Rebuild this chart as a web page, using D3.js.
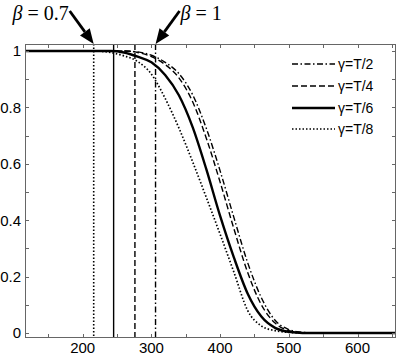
<!DOCTYPE html>
<html><head><meta charset="utf-8">
<script src="https://cdn.jsdelivr.net/npm/d3@7"></script>
<style>
html,body{margin:0;padding:0;background:#fff;}
svg{display:block;}
</style></head>
<body>
<svg id="chart" width="398" height="363"></svg>
<script>
// ---- data ----
const xGrid = [116, 200, 216, 240, 260, 280, 300, 320, 340, 360, 380, 400, 420, 440, 460, 480, 500, 520, 540, 656];
const yT2 = [1, 1, 1, 1, 1, 0.997, 0.985, 0.96, 0.92, 0.845, 0.725, 0.575, 0.41, 0.25, 0.125, 0.045, 0.012, 0.002, 0, 0];
const yT4 = [1, 1, 1, 1, 1, 0.995, 0.98, 0.952, 0.905, 0.82, 0.69, 0.535, 0.37, 0.215, 0.1, 0.035, 0.008, 0.001, 0, 0];
const yT6 = [1, 1, 1, 1, 0.995, 0.98, 0.96, 0.915, 0.843, 0.73, 0.58, 0.415, 0.268, 0.14, 0.058, 0.018, 0.004, 0, 0, 0];
const yT8 = [1, 1, 1, 0.995, 0.983, 0.963, 0.918, 0.832, 0.727, 0.607, 0.48, 0.35, 0.216, 0.08, 0.025, 0.008, 0.002, 0, 0, 0];
const seriesNames = ["γ=T/2", "γ=T/4", "γ=T/6", "γ=T/8"];
const betaX = [306, 276, 245, 216];          // vertical marker lines, same order as series
const betaLabels = [{text: "= 1", idx: 0, side: 1}, {text: "= 0.7", idx: 3, side: -1}];
const xTicks = [150, 200, 250, 300, 350, 400, 450, 500, 550, 600, 650];
const xTickLabels = [200, 300, 400, 500, 600];
const yTicks = [0, 0.1, 0.2, 0.3, 0.4, 0.5, 0.6, 0.7, 0.8, 0.9, 1];
const yTickLabels = [0, 0.2, 0.4, 0.6, 0.8, 1];
const xDomain = [116, 656];
const yDomain = [-0.018, 1.025];

// ---- styles ----
const styles = [
  {dash: "6,2.5,1.5,2.5", width: 1.4},
  {dash: "6,3", width: 1.4},
  {dash: null, width: 2.4},
  {dash: "1.5,2", width: 1.7}
];

const svg = d3.select("#chart");
const m = {l: 25, r: 2, t: 44, b: 25};
const W = 398, H = 363;
const x = d3.scaleLinear().domain(xDomain).range([m.l, W - m.r]);
const y = d3.scaleLinear().domain(yDomain).range([H - m.b, m.t]);

const g = svg.append("g");
svg.append("defs").append("clipPath").attr("id", "clip")
  .append("rect").attr("x", m.l).attr("y", m.t).attr("width", W - m.l - m.r).attr("height", H - m.t - m.b);

const plot = g.append("g").attr("clip-path", "url(#clip)");

// vertical lines
betaX.forEach((bx, i) => {
  plot.append("line")
    .attr("x1", x(bx)).attr("x2", x(bx))
    .attr("y1", y(yDomain[1])).attr("y2", y(yDomain[0]))
    .attr("stroke", "#000").attr("stroke-width", i === 3 ? 1.6 : 1.4)
    .attr("stroke-dasharray", styles[i].dash);
});

// curves
const ys = [yT2, yT4, yT6, yT8];
const line = d3.line().x(d => x(d[0])).y(d => y(d[1])).curve(d3.curveMonotoneX);
ys.forEach((arr, i) => {
  plot.append("path")
    .datum(xGrid.map((xv, j) => [xv, arr[j]]))
    .attr("d", line)
    .attr("fill", "none")
    .attr("stroke", "#000")
    .attr("stroke-width", styles[i].width)
    .attr("stroke-dasharray", styles[i].dash);
});

// axes box with inward ticks on all sides
const axisColor = "#666";
const tl = 4;
const ax = g.append("g").attr("font-family", "Liberation Sans, Arial, sans-serif").attr("font-size", 15);
ax.append("rect").attr("x", m.l + 0.5).attr("y", m.t + 0.5)
  .attr("width", W - m.l - m.r - 1).attr("height", H - m.t - m.b - 1)
  .attr("fill", "none").attr("stroke", axisColor).attr("stroke-width", 1);

xTicks.forEach(t => {
  const px = Math.round(x(t)) + 0.5;
  ax.append("line").attr("x1", px).attr("x2", px).attr("y1", H - m.b).attr("y2", H - m.b - tl).attr("stroke", axisColor);
  ax.append("line").attr("x1", px).attr("x2", px).attr("y1", m.t).attr("y2", m.t + tl).attr("stroke", axisColor);
});
yTicks.forEach(t => {
  const py = Math.round(y(t)) + 0.5;
  ax.append("line").attr("x1", m.l).attr("x2", m.l + tl).attr("y1", py).attr("y2", py).attr("stroke", axisColor);
  ax.append("line").attr("x1", W - m.r).attr("x2", W - m.r - tl).attr("y1", py).attr("y2", py).attr("stroke", axisColor);
});
xTickLabels.forEach(t => {
  ax.append("text").attr("x", x(t)).attr("y", 353).attr("text-anchor", "middle").text(t);
});
yTickLabels.forEach(t => {
  ax.append("text").attr("x", 21).attr("y", y(t)).attr("dy", "0.36em").attr("text-anchor", "end").text(t);
});

// legend
const leg = g.append("g").attr("font-family", "Liberation Sans, Arial, sans-serif").attr("font-size", 14);
const legY = [64, 86, 108, 129];
seriesNames.forEach((name, i) => {
  leg.append("line").attr("x1", 292).attr("x2", 335).attr("y1", legY[i]).attr("y2", legY[i])
    .attr("stroke", "#000").attr("stroke-width", styles[i].width).attr("stroke-dasharray", styles[i].dash);
  leg.append("text").attr("x", 338).attr("y", legY[i]).attr("dy", "0.36em").text(name);
});

// beta annotations with arrows
const ann = g.append("g");
betaLabels.forEach(b => {
  const tipX = x(betaX[b.idx]), tipY = y(yDomain[1]);
  const tailX = tipX + b.side * 24, tailY = 11;
  const ang = Math.atan2(tipY - tailY, tipX - tailX);
  const hl = 15, hw = 6;
  const bx = tipX - hl * Math.cos(ang), by = tipY - hl * Math.sin(ang);
  ann.append("line").attr("x1", tailX).attr("y1", tailY).attr("x2", bx).attr("y2", by)
    .attr("stroke", "#000").attr("stroke-width", 2.8);
  const px = -Math.sin(ang), py = Math.cos(ang);
  ann.append("path").attr("d", `M${tipX},${tipY}L${bx + px * hw},${by + py * hw}L${bx - px * hw},${by - py * hw}Z`).attr("fill", "#000");
  const t = ann.append("text").attr("font-family", "Liberation Serif, Times New Roman, serif").attr("font-size", 20)
    .attr("y", 20)
    .attr("x", b.side < 0 ? tailX - 1 : tailX + 1)
    .attr("text-anchor", b.side < 0 ? "end" : "start");
  t.append("tspan").attr("font-style", "italic").text("β");
  t.append("tspan").text(" " + b.text);
});
</script>
</body></html>
